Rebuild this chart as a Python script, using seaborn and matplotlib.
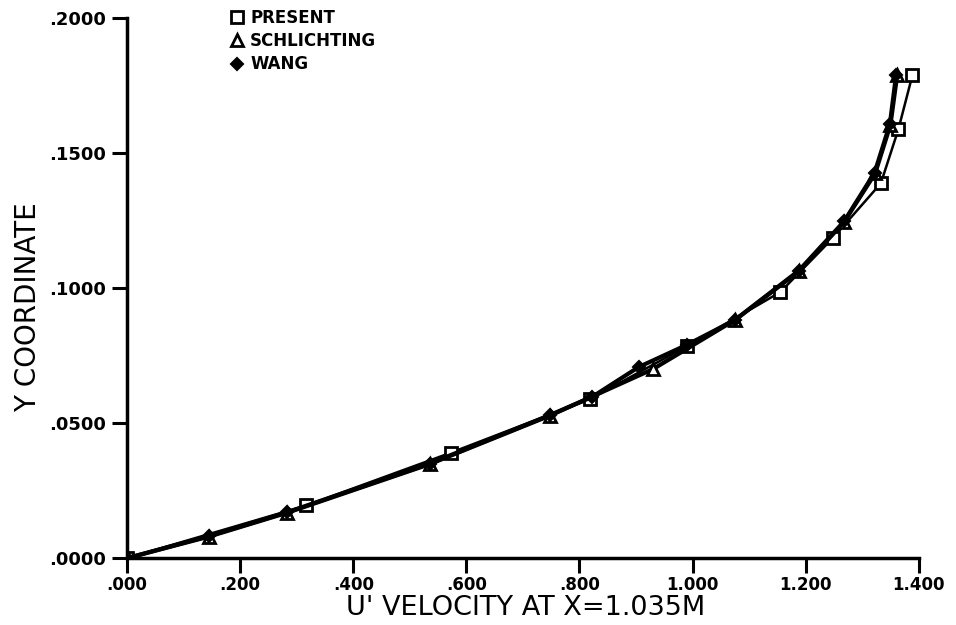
import numpy as np
import pandas as pd
import matplotlib
matplotlib.use("Agg")
import matplotlib.pyplot as plt
import seaborn as sns

# Daten
present_u = [0.0, 0.317, 0.572, 0.818, 0.990, 1.155, 1.248, 1.333, 1.364, 1.389]
present_y = [0.0, 0.0195, 0.0390, 0.0588, 0.0785, 0.0985, 0.1185, 0.1388, 0.1588, 0.1790]

schlichting_u = [0.0, 0.145, 0.283, 0.535, 0.748, 0.930, 1.075, 1.188, 1.268, 1.323, 1.350, 1.362]
schlichting_y = [0.0, 0.0080, 0.0168, 0.0348, 0.0528, 0.0700, 0.0882, 0.1062, 0.1245, 0.1425, 0.1605, 0.1790]

wang_u = [0.0, 0.145, 0.283, 0.535, 0.748, 0.823, 0.905, 0.990, 1.075, 1.188, 1.268, 1.322, 1.349, 1.360]
wang_y = [0.0, 0.0082, 0.0170, 0.0350, 0.0530, 0.0598, 0.0708, 0.0790, 0.0882, 0.1065, 0.1247, 0.1428, 0.1608, 0.1790]

x_ticks = [0.0, 0.2, 0.4, 0.6, 0.8, 1.0, 1.2, 1.4]
x_ticklabels = [".000", ".200", ".400", ".600", ".800", "1.000", "1.200", "1.400"]
y_ticks = [0.0, 0.05, 0.10, 0.15, 0.20]
y_ticklabels = [".0000", ".0500", ".1000", ".1500", ".2000"]

sns.set_style("ticks")
plt.rcParams['font.family'] = ['DejaVu Sans']
plt.rcParams['text.color'] = 'black'
plt.rcParams['axes.labelcolor'] = 'black'
plt.rcParams['xtick.color'] = 'black'
plt.rcParams['ytick.color'] = 'black'

fig = plt.figure(figsize=(9.56, 6.25), dpi=100)
ax = fig.add_axes([0.133, 0.107, 0.828, 0.864])

df_present = pd.DataFrame({"u": present_u, "y": present_y})
df_schl = pd.DataFrame({"u": schlichting_u, "y": schlichting_y})
df_wang = pd.DataFrame({"u": wang_u, "y": wang_y})

# Linien mit Markern
sns.lineplot(data=df_present, x="u", y="y", sort=False, ax=ax, color="black",
             linewidth=1.8, marker="s", markersize=8, markerfacecolor="white",
             markeredgecolor="black", markeredgewidth=2, label="PRESENT")
sns.lineplot(data=df_schl, x="u", y="y", sort=False, ax=ax, color="black",
             linewidth=3, marker="^", markersize=9, markerfacecolor="white",
             markeredgecolor="black", markeredgewidth=2, label="SCHLICHTING")
sns.lineplot(data=df_wang, x="u", y="y", sort=False, ax=ax, color="black",
             linewidth=3, marker="D", markersize=6, markerfacecolor="black",
             markeredgecolor="black", markeredgewidth=1.5, label="WANG")

# Achsen
ax.set_xlim(0, 1.4)
ax.set_ylim(0, 0.2)
ax.set_xticks(x_ticks)
ax.set_xticklabels(x_ticklabels, fontsize=12, fontweight="bold")
ax.set_yticks(y_ticks)
ax.set_yticklabels(y_ticklabels, fontsize=13, fontweight="bold")
ax.tick_params(direction="out", length=11, width=2.2, color="black", pad=4)
ax.tick_params(axis="x", pad=2)
for side in ["top", "right"]:
    ax.spines[side].set_visible(False)
for side in ["left", "bottom"]:
    ax.spines[side].set_linewidth(2.5)
    ax.spines[side].set_color("black")
ax.patch.set_alpha(0)

ax.set_xlabel("U' VELOCITY AT X=1.035M", fontsize=19.5)
ax.xaxis.set_label_coords(0.503, -0.068)
ax.set_ylabel("Y COORDINATE", fontsize=20)
ax.yaxis.set_label_coords(-0.107, 0.465)

# Legende
leg = ax.legend(loc="upper left", bbox_to_anchor=(0.111, 1.045), frameon=False,
                handlelength=0.8, handletextpad=0.4, labelspacing=0.32,
                prop={"size": 12, "weight": "bold"})
for line in leg.get_lines():
    line.set_linestyle("none")

fig.savefig("out.png", dpi=100, facecolor="white")
